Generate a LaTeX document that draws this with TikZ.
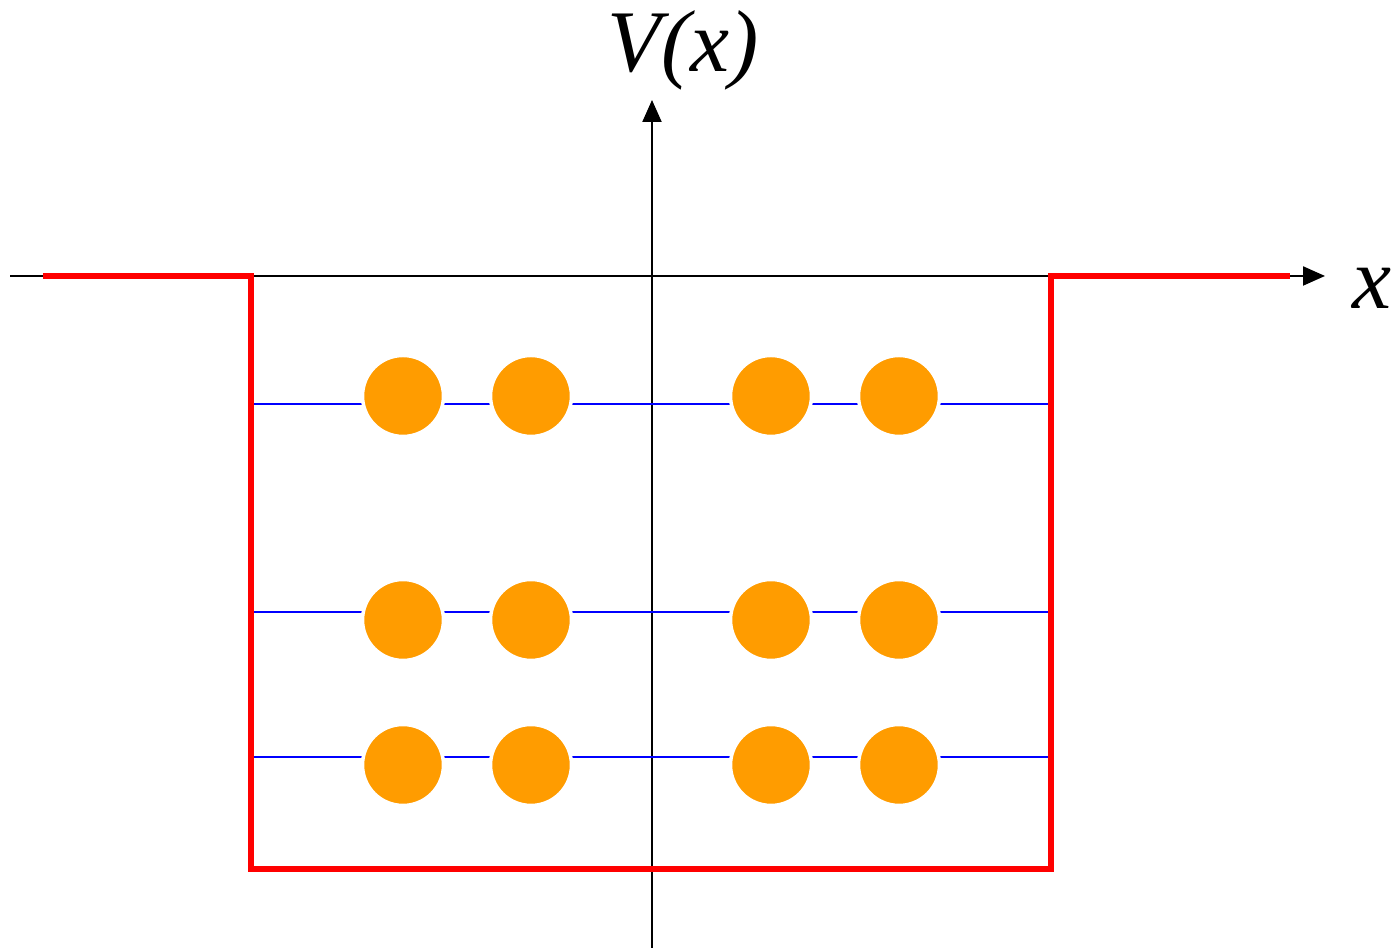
\documentclass[tikz,border=0pt]{standalone}
\usepackage{fontspec}
\setmainfont{Liberation Serif}
\usetikzlibrary{arrows.meta}
\definecolor{wellred}{HTML}{FF0000}
\definecolor{levelblue}{HTML}{0000FF}
\definecolor{particleorange}{HTML}{FF9C00}

\begin{document}
\begin{tikzpicture}[
    axis/.style={line width=0.6pt, -{Triangle[length=0.22cm, width=0.19cm]}},
    well/.style={wellred, line width=1.6pt},
    level/.style={levelblue, line width=0.6pt},
    particle/.style={circle, fill=particleorange, draw=white, line width=1pt,
                     minimum size=0.81cm, inner sep=0pt},
    axislabel/.style={font=\fontsize{25}{30}\selectfont\itshape, inner sep=0pt},
]
\useasboundingbox (0,0) rectangle (13.97,9.48);

% Axes
\coordinate (xstart) at (0.10,6.72);
\coordinate (xend) at (13.25,6.72);
\coordinate (ystart) at (6.52,0);
\coordinate (yend) at (6.52,8.48);
\draw[axis] (xstart) -- (xend);
\draw[axis] (ystart) -- (yend);
\node[axislabel] (vlabel) at (6.83,8.98) {V(x)};
\node[axislabel] (xlabel) at (13.72,6.60) {x};

% Well corners
\coordinate (outl) at (0.43,6.72);
\coordinate (topl) at (2.51,6.72);
\coordinate (botl) at (2.51,0.79);
\coordinate (botr) at (10.51,0.79);
\coordinate (topr) at (10.51,6.72);
\coordinate (outr) at (12.90,6.72);

% Energy levels
\foreach \lv/\y in {one/1.91, two/3.36, three/5.44} {
    \coordinate (\lv l) at (2.51,\y);
    \coordinate (\lv r) at (10.51,\y);
    \draw[level] (\lv l) -- (\lv r);
}

% Potential well
\draw[well] (outl) -- (topl) -- (botl) -- (botr) -- (topr) -- (outr);

% Particles
\foreach \row/\y in {a/5.52, b/3.28, c/1.83} {
    \foreach \col/\x in {1/4.03, 2/5.31, 3/7.71, 4/8.99} {
        \node[particle] (p\row\col) at (\x,\y) {};
    }
}

\end{tikzpicture}
\end{document}
